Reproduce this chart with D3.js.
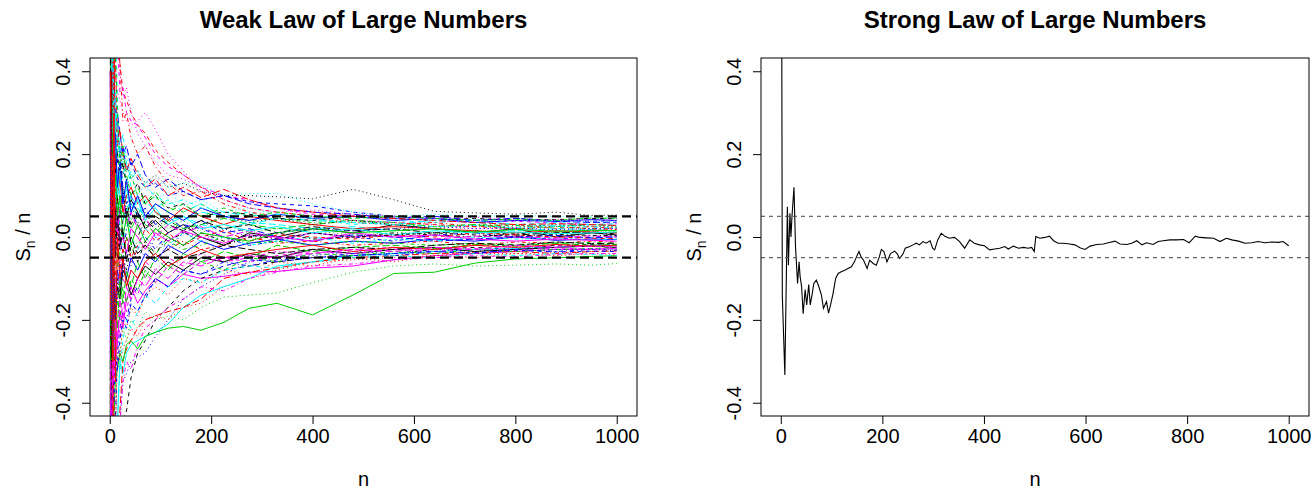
<!DOCTYPE html>
<html><head><meta charset="utf-8">
<script src="https://cdn.jsdelivr.net/npm/d3@7"></script>
<style>
body{margin:0;background:#fff}
text{font-family:"Liberation Sans",Arial,Helvetica,sans-serif;fill:#000}
</style>
</head><body>
<svg id="chart" width="1316" height="492"></svg>
<script>
// ---------- DATA ----------
const knotsN = [1,2,3,4,6,8,11,15,20,26,33,42,55,70,90,115,145,180,225,275,330,400,480,560,640,720,800,880,950,1000];

const s00 = [0.8,0.3,-0.2,0.1,0.25,0.1,0.02,0.12,0.18,0.1,0.05,0.09,0.06,0.02,0.04,0.01,0.03,0.0,-0.02,0.01,0.0,0.02,0.01,0.03,0.02,0.01,0.02,0.0,0.01,0.005];
const s01 = [1.2,0.9,0.7,0.6,0.75,0.7,0.6,0.5,0.42,0.35,0.33,0.3,0.27,0.25,0.21,0.18,0.15,0.12,0.09,0.07,0.06,0.05,0.04,0.035,0.03,0.025,0.03,0.02,0.025,0.02];
const s02 = [-0.5,-0.8,-0.6,-0.4,-0.3,-0.35,-0.25,-0.3,-0.28,-0.22,-0.25,-0.2,-0.22,-0.18,-0.2,-0.19,-0.2,-0.17,-0.145,-0.14,-0.135,-0.11,-0.085,-0.07,-0.065,-0.07,-0.068,-0.065,-0.068,-0.064];
const s03 = [-1.0,-0.4,0.1,0.3,0.1,-0.05,0.1,0.05,0.0,-0.05,0.02,0.06,0.03,0.0,-0.03,0.01,0.03,0.02,0.0,-0.02,-0.01,0.01,0.0,-0.01,0.005,0.01,0.0,-0.005,0.0,0.003];
const s04 = [1.5,0.6,0.4,0.2,-0.1,0.05,0.2,0.15,0.1,0.06,0.1,0.08,0.05,0.09,0.06,0.04,0.05,0.03,0.02,0.035,0.03,0.02,0.025,0.015,0.02,0.01,0.015,0.02,0.018,0.015];
const s05 = [-0.3,0.2,-0.4,-0.5,-0.35,-0.2,-0.3,-0.25,-0.18,-0.22,-0.15,-0.12,-0.16,-0.13,-0.1,-0.12,-0.09,-0.1,-0.095,-0.085,-0.083,-0.075,-0.07,-0.055,-0.045,-0.04,-0.035,-0.03,-0.03,-0.028];
const s06 = [-1.5,-1.2,-0.9,-0.8,-0.7,-0.6,-0.55,-0.5,-0.48,-0.44,-0.42,-0.34,-0.28,-0.25,-0.2,-0.17,-0.13,-0.1,-0.08,-0.07,-0.06,-0.05,-0.045,-0.04,-0.03,-0.025,-0.03,-0.02,-0.018,-0.02];
const s07 = [0.5,-0.2,-0.5,-0.6,-0.7,-0.6,-0.5,-0.3,-0.32,-0.27,-0.25,-0.22,-0.24,-0.2,-0.19,-0.2,-0.17,-0.16,-0.12,-0.1,-0.08,-0.06,-0.055,-0.05,-0.045,-0.04,-0.04,-0.038,-0.035,-0.032];
const s08 = [1.0,0.5,0.7,0.5,0.4,0.2,0.3,0.2,0.15,0.2,0.12,0.15,0.1,0.08,0.11,0.07,0.06,0.08,0.05,0.04,0.045,0.035,0.04,0.03,0.025,0.03,0.028,0.025,0.02,0.022];
const s09 = [-0.7,0.1,0.3,0.0,0.2,0.35,0.25,0.18,0.2,0.12,0.08,0.1,0.05,0.07,0.03,0.05,0.02,0.04,0.01,0.02,0.0,-0.01,0.005,0.0,-0.01,-0.005,0.0,0.004,-0.002,0.0];
const s10 = [-1.1,-0.6,-0.8,-0.5,-0.8,-0.7,-0.55,-0.45,-0.3,-0.33,-0.28,-0.26,-0.25,-0.24,-0.23,-0.21,-0.17,-0.14,-0.12,-0.1,-0.07,-0.06,-0.045,-0.04,-0.035,-0.03,-0.028,-0.025,-0.02,-0.02];
const s11 = [0.2,0.6,0.8,0.5,0.8,0.7,0.55,0.48,0.35,0.36,0.3,0.28,0.27,0.24,0.2,0.17,0.15,0.12,0.1,0.09,0.07,0.055,0.05,0.045,0.04,0.035,0.038,0.034,0.03,0.032];
const s12 = [0.9,1.0,0.6,0.3,0.2,0.35,0.25,0.2,0.22,0.15,0.18,0.14,0.16,0.13,0.15,0.12,0.13,0.11,0.1,0.1,0.097,0.092,0.115,0.09,0.062,0.058,0.055,0.06,0.052,0.053];
const s13 = [-0.4,0.3,0.1,-0.2,-0.5,0.45,-0.1,-0.05,0.02,-0.04,0.0,-0.06,-0.03,-0.02,-0.05,-0.03,-0.01,-0.03,-0.02,0.0,-0.015,-0.01,-0.02,-0.015,-0.01,-0.02,-0.012,-0.015,-0.01,-0.012];
const s14 = [0.6,0.0,0.3,0.45,0.2,0.1,0.0,0.05,0.1,0.06,0.04,0.02,0.05,0.03,0.01,0.04,0.02,0.03,0.045,0.03,0.02,0.03,0.04,0.035,0.025,0.03,0.02,0.025,0.03,0.027];
const s15 = [-0.2,-0.5,-0.1,0.15,-0.05,-0.2,-0.15,-0.08,-0.12,-0.06,-0.1,-0.05,-0.08,-0.04,-0.06,-0.02,-0.04,-0.01,-0.03,-0.015,-0.005,-0.02,-0.01,-0.015,-0.005,-0.01,0.0,-0.008,-0.005,-0.006];
const s16 = [1.3,0.8,0.4,0.6,0.7,0.6,0.5,0.35,0.12,0.15,0.18,0.12,0.09,0.1,0.07,0.09,0.06,0.08,0.05,0.06,0.04,0.045,0.03,0.04,0.035,0.04,0.03,0.035,0.03,0.032];
const s17 = [1.0,0.4,0.6,0.7,0.5,0.45,0.4,0.35,0.33,0.3,0.28,0.27,0.28,0.3,0.26,0.2,0.16,0.11,0.1,0.085,0.07,0.05,0.04,0.035,0.03,0.02,0.02,0.015,0.018,0.02];
const s18 = [-0.9,-0.3,0.0,0.2,0.3,0.15,0.05,-0.05,0.05,0.1,0.06,0.02,0.0,0.04,0.02,-0.01,0.01,0.0,-0.02,0.0,0.01,-0.005,0.0,0.01,0.005,0.0,0.008,0.012,0.01,0.008];
const s19 = [-0.8,-1.0,-0.7,-0.5,-0.8,-0.65,-0.55,-0.48,-0.42,-0.3,-0.27,-0.25,-0.22,-0.2,-0.19,-0.18,-0.17,-0.15,-0.1,-0.085,-0.075,-0.06,-0.05,-0.045,-0.04,-0.038,-0.035,-0.04,-0.035,-0.034];
const s20 = [-1.0,-0.6,-0.3,-0.5,-0.4,-0.45,-0.35,-0.32,-0.28,-0.3,-0.26,-0.25,-0.27,-0.24,-0.23,-0.22,-0.216,-0.225,-0.206,-0.172,-0.16,-0.188,-0.14,-0.088,-0.085,-0.063,-0.053,-0.05,-0.047,-0.045];
const s21 = [0.5,0.9,0.4,0.3,0.45,0.3,0.25,0.28,0.2,0.22,0.16,0.18,0.14,0.12,0.13,0.1,0.11,0.09,0.1,0.085,0.08,0.075,0.06,0.05,0.045,0.04,0.045,0.04,0.038,0.04];
const s22 = [0.3,0.8,0.5,0.6,0.4,0.3,0.35,0.25,0.2,0.18,0.2,0.15,0.16,0.13,0.14,0.12,0.13,0.125,0.1,0.105,0.105,0.08,0.06,0.05,0.055,0.05,0.052,0.05,0.05,0.048];
const s23 = [-0.6,-0.2,0.2,0.0,-0.15,-0.25,-0.1,-0.15,-0.05,-0.1,-0.12,-0.08,-0.1,-0.06,-0.08,-0.05,-0.07,-0.04,-0.06,-0.05,-0.035,-0.04,-0.03,-0.025,-0.03,-0.02,-0.025,-0.022,-0.02,-0.018];
const s24 = [0.4,0.1,-0.3,-0.2,0.0,0.15,0.05,0.1,-0.02,0.04,0.07,0.03,0.06,0.02,0.05,0.03,0.015,0.04,0.02,0.03,0.01,0.025,0.015,0.02,0.01,0.015,0.005,0.01,0.012,0.01];
const s25 = [1.1,0.5,0.2,0.35,0.6,0.5,0.18,0.1,0.14,0.06,0.1,0.12,0.08,0.1,0.06,0.04,0.07,0.05,0.03,0.05,0.04,0.03,0.02,0.025,0.02,0.015,0.01,0.015,0.012,0.01];
const s26 = [-0.3,-0.7,-0.5,-0.25,-0.35,-0.2,-0.25,-0.15,-0.2,-0.12,-0.16,-0.1,-0.13,-0.08,-0.11,-0.07,-0.09,-0.06,-0.08,-0.05,-0.06,-0.04,-0.045,-0.035,-0.04,-0.03,-0.035,-0.03,-0.028,-0.025];
const s27 = [-1.2,-0.9,-0.6,-0.7,-0.85,-0.75,-0.6,-0.5,-0.45,-0.35,-0.33,-0.3,-0.29,-0.28,-0.24,-0.2,-0.15,-0.12,-0.09,-0.06,-0.05,-0.045,-0.035,-0.04,-0.03,-0.035,-0.025,-0.03,-0.028,-0.03];
const s28 = [0.0,0.4,0.6,0.25,0.1,-0.1,0.0,0.08,0.03,-0.02,0.05,0.0,-0.03,0.02,0.0,-0.02,0.01,-0.01,0.0,-0.02,-0.01,0.0,-0.015,-0.005,-0.01,0.0,-0.005,-0.003,-0.008,-0.005];
const s29 = [0.7,0.2,0.0,-0.3,-0.1,0.05,0.12,0.0,0.07,0.1,0.03,0.06,0.02,0.05,0.0,0.03,0.01,0.025,0.0,0.015,-0.005,0.01,0.0,0.005,-0.005,0.002,0.0,-0.002,0.003,0.0];
const s30 = [-0.5,0.0,-0.4,-0.15,-0.3,-0.1,-0.2,-0.12,-0.15,-0.08,-0.1,-0.14,-0.1,-0.07,-0.09,-0.06,-0.08,-0.05,-0.06,-0.04,-0.05,-0.03,-0.04,-0.03,-0.025,-0.035,-0.03,-0.025,-0.022,-0.025];
const s31 = [-0.9,-0.5,-0.1,0.1,0.6,-0.5,0.3,0.0,-0.08,-0.04,0.0,-0.05,-0.02,0.02,-0.01,0.01,-0.02,0.0,0.015,-0.01,0.005,0.0,-0.005,0.005,0.0,0.01,0.005,0.0,-0.003,-0.004];
const s32 = [0.3,0.6,0.3,0.5,0.25,0.15,0.2,0.1,0.05,0.12,0.08,0.04,0.07,0.04,0.06,0.02,0.04,0.01,0.03,0.01,0.02,0.015,0.005,0.01,0.008,0.015,0.01,0.012,0.015,0.014];
const s33 = [-1.3,-0.4,-0.3,-0.55,-0.6,-0.5,-0.45,-0.28,-0.22,-0.18,-0.2,-0.15,-0.12,-0.15,-0.1,-0.12,-0.08,-0.09,-0.06,-0.07,-0.055,-0.05,-0.04,-0.045,-0.035,-0.04,-0.03,-0.035,-0.03,-0.032];
const s34 = [-0.2,0.5,0.2,0.1,0.3,0.05,0.1,0.15,0.08,0.04,0.06,0.1,0.07,0.05,0.08,0.06,0.04,0.06,0.05,0.03,0.045,0.04,0.035,0.03,0.04,0.035,0.03,0.028,0.03,0.028];
const s35 = [0.4,-0.1,-0.2,0.05,0.15,0.0,-0.05,0.05,-0.02,0.0,-0.04,0.02,0.0,-0.03,0.01,-0.01,0.015,0.0,-0.015,0.005,0.0,-0.01,0.01,0.0,0.005,-0.005,-0.01,-0.005,-0.008,-0.01];
const s36 = [1.0,0.7,0.3,0.4,0.2,0.3,0.15,0.2,0.14,0.18,0.12,0.1,0.13,0.08,0.1,0.07,0.08,0.05,0.06,0.055,0.045,0.04,0.05,0.045,0.04,0.045,0.04,0.042,0.045,0.044];
const s37 = [-0.4,-0.8,-0.3,-0.35,-0.7,-0.55,-0.5,-0.25,-0.3,-0.2,-0.22,-0.17,-0.19,-0.14,-0.12,-0.14,-0.1,-0.11,-0.08,-0.09,-0.06,-0.07,-0.05,-0.06,-0.045,-0.05,-0.04,-0.045,-0.04,-0.042];
const s38 = [0.1,-0.3,0.2,-0.1,0.05,-0.15,0.0,-0.08,-0.03,-0.06,0.0,-0.04,-0.01,-0.02,-0.04,-0.01,-0.03,-0.02,0.0,-0.015,-0.01,-0.02,-0.01,-0.015,-0.02,-0.015,-0.018,-0.015,-0.013,-0.015];
const s39 = [0.6,0.3,0.5,0.35,0.5,0.4,0.3,0.3,0.25,0.2,0.22,0.17,0.2,0.15,0.12,0.14,0.11,0.09,0.1,0.08,0.07,0.06,0.055,0.045,0.05,0.04,0.045,0.038,0.035,0.036];
const s40 = [0.9,-0.2,0.5,0.3,0.6,0.2,0.3,0.1,0.16,0.08,0.12,0.06,0.09,0.04,0.07,0.03,0.05,0.02,0.03,0.015,0.025,0.01,0.02,0.005,0.015,0.01,0.012,0.008,0.01,0.012];
const s41 = [-0.8,-0.4,-0.7,-0.3,-0.45,-0.25,-0.3,-0.2,-0.24,-0.15,-0.18,-0.12,-0.14,-0.09,-0.11,-0.07,-0.09,-0.06,-0.05,-0.06,-0.045,-0.035,-0.04,-0.03,-0.035,-0.028,-0.032,-0.026,-0.03,-0.027];
const s42 = [0.2,0.5,0.1,-0.2,0.1,0.2,0.0,0.1,0.06,0.12,0.04,0.08,0.03,0.06,0.02,0.045,0.01,0.03,0.05,0.035,0.045,0.03,0.04,0.03,0.02,0.028,0.024,0.03,0.026,0.025];
const s43 = [1.4,1.0,0.8,0.55,0.8,0.75,0.6,0.5,0.42,0.28,0.3,0.24,0.2,0.22,0.17,0.13,0.1,0.11,0.08,0.06,0.05,0.045,0.035,0.03,0.035,0.025,0.02,0.025,0.02,0.018];
const s44 = [-0.6,0.0,-0.3,-0.4,-0.2,-0.3,-0.15,-0.22,-0.1,-0.16,-0.08,-0.12,-0.06,-0.1,-0.05,-0.08,-0.04,-0.06,-0.035,-0.05,-0.02,-0.035,-0.025,-0.02,-0.028,-0.018,-0.022,-0.015,-0.02,-0.018];
const s45 = [1.2,0.7,0.4,0.25,0.35,0.15,0.25,0.12,0.18,0.08,0.14,0.06,0.1,0.05,0.08,0.06,0.04,0.07,0.05,0.04,0.055,0.045,0.05,0.04,0.045,0.035,0.04,0.038,0.042,0.04];
const s46 = [-1.0,-0.7,-0.5,-0.6,-0.7,-0.6,-0.5,-0.45,-0.32,-0.25,-0.2,-0.22,-0.18,-0.14,-0.16,-0.12,-0.1,-0.11,-0.08,-0.07,-0.075,-0.06,-0.05,-0.045,-0.05,-0.04,-0.045,-0.04,-0.042,-0.045];
const s47 = [0.5,0.8,0.9,0.6,0.9,0.75,0.6,0.5,0.4,0.34,0.36,0.3,0.25,0.22,0.18,0.15,0.14,0.12,0.09,0.07,0.06,0.065,0.055,0.05,0.045,0.048,0.04,0.042,0.038,0.04];
const s48 = [-0.3,-0.6,-0.2,-0.4,-0.15,-0.05,-0.2,-0.1,-0.14,-0.05,-0.08,-0.02,-0.06,-0.01,-0.04,0.0,-0.02,0.01,-0.01,0.005,-0.005,0.01,0.0,0.005,0.01,0.005,0.002,0.006,0.004,0.003];
const s49 = [1.0,0.4,0.6,0.3,0.7,0.55,0.45,0.22,0.26,0.2,0.16,0.19,0.15,0.12,0.14,0.1,0.12,0.095,0.115,0.09,0.07,0.06,0.05,0.045,0.04,0.035,0.03,0.032,0.03,0.028];
const s50 = [0.8,0.3,0.1,0.35,0.2,0.05,0.15,0.05,0.1,0.0,0.05,-0.02,0.03,-0.01,0.02,0.0,-0.02,0.01,0.0,-0.01,0.01,0.02,0.01,0.015,0.02,0.012,0.018,0.014,0.016,0.015];
const s51 = [-0.5,-0.9,-0.4,-0.6,-0.3,-0.4,-0.28,-0.32,-0.25,-0.2,-0.22,-0.16,-0.18,-0.14,-0.1,-0.12,-0.08,-0.09,-0.07,-0.055,-0.06,-0.05,-0.045,-0.04,-0.035,-0.038,-0.032,-0.036,-0.034,-0.035];
const s52 = [1.1,0.6,0.3,0.5,0.25,0.35,0.2,0.25,0.15,0.2,0.12,0.16,0.1,0.13,0.09,0.11,0.075,0.09,0.06,0.07,0.055,0.05,0.045,0.048,0.04,0.042,0.038,0.04,0.037,0.038];
const s53 = [-1.3,-1.0,-0.8,-0.6,-0.9,-0.8,-0.65,-0.55,-0.45,-0.35,-0.3,-0.32,-0.26,-0.22,-0.2,-0.17,-0.15,-0.12,-0.13,-0.1,-0.085,-0.07,-0.065,-0.055,-0.05,-0.045,-0.048,-0.042,-0.04,-0.04];
const s54 = [0.6,0.1,0.4,0.2,0.0,0.1,-0.05,0.05,-0.03,0.02,-0.06,0.0,-0.04,-0.02,-0.05,-0.03,-0.05,-0.04,-0.02,-0.03,-0.04,-0.03,-0.025,-0.03,-0.02,-0.015,-0.02,-0.012,-0.016,-0.015];
const s55 = [-0.2,0.4,0.0,0.2,-0.6,0.5,-0.35,0.0,-0.1,-0.05,-0.12,-0.08,-0.1,-0.06,-0.04,-0.07,-0.05,-0.03,-0.05,-0.04,-0.03,-0.02,-0.035,-0.025,-0.03,-0.02,-0.025,-0.018,-0.022,-0.02];
const s56 = [1.5,0.9,0.5,0.6,0.7,0.5,0.45,0.3,0.18,0.22,0.15,0.1,0.12,0.08,0.1,0.06,0.08,0.05,0.07,0.05,0.06,0.05,0.045,0.05,0.045,0.04,0.043,0.04,0.046,0.045];
const s57 = [-0.1,0.3,-0.2,0.0,-0.25,-0.1,-0.2,-0.12,-0.06,-0.1,-0.03,-0.07,-0.02,-0.05,0.0,-0.03,0.01,-0.01,0.02,0.0,0.01,0.02,0.015,0.02,0.025,0.02,0.022,0.018,0.02,0.021];
const s58 = [0.8,1.0,0.6,0.4,0.5,0.3,0.35,0.25,0.2,0.25,0.18,0.14,0.16,0.12,0.1,0.08,0.09,0.07,0.06,0.05,0.055,0.045,0.035,0.03,0.025,0.028,0.022,0.025,0.024,0.022];
const s59 = [-0.7,-0.3,-0.6,-0.45,-0.3,-0.35,-0.2,-0.26,-0.15,-0.2,-0.12,-0.15,-0.1,-0.12,-0.08,-0.1,-0.06,-0.07,-0.05,-0.045,-0.05,-0.04,-0.03,-0.035,-0.025,-0.03,-0.02,-0.025,-0.022,-0.024];

const weakSeries = [s00,s01,s02,s03,s04,s05,s06,s07,s08,s09,s10,s11,s12,s13,s14,s15,s16,s17,s18,s19,
                    s20,s21,s22,s23,s24,s25,s26,s27,s28,s29,s30,s31,s32,s33,s34,s35,s36,s37,s38,s39,
                    s40,s41,s42,s43,s44,s45,s46,s47,s48,s49,s50,s51,s52,s53,s54,s55,s56,s57,s58,s59];

const strongN = [1,3,8,13,15,18,20,22,26,29,33,36,38,41,44,48,51,55,58,62,65,70,75,80,84,90,94,98,103,108,113,119,126,132,139,145,149,154,158,163,170,175,182,188,194,198,203,209,216,224,229,234,241,245,254,260,267,273,280,286,294,299,303,309,316,324,332,342,352,362,372,381,391,401,411,421,431,441,448,458,468,478,487,494,499,502,510,520,529,537,546,556,569,579,589,599,609,622,635,645,658,668,681,691,701,711,720,733,743,753,766,779,793,804,816,825,838,852,865,877,888,901,914,927,940,953,966,980,989,1000];
const strongMean = [1.0,-0.14,-0.333,0.073,-0.068,0.057,0.0,0.049,0.12,-0.024,-0.112,-0.06,-0.095,-0.12,-0.185,-0.127,-0.164,-0.115,-0.164,-0.136,-0.112,-0.104,-0.12,-0.14,-0.172,-0.156,-0.184,-0.164,-0.136,-0.1,-0.088,-0.084,-0.08,-0.076,-0.072,-0.06,-0.048,-0.035,-0.048,-0.056,-0.076,-0.056,-0.064,-0.068,-0.048,-0.03,-0.035,-0.06,-0.04,-0.034,-0.04,-0.052,-0.04,-0.027,-0.023,-0.019,-0.015,-0.019,-0.011,-0.015,-0.009,-0.027,-0.031,-0.007,0.009,0.001,-0.003,-0.001,-0.011,-0.027,-0.007,-0.015,-0.019,-0.021,-0.031,-0.029,-0.027,-0.023,-0.029,-0.022,-0.027,-0.025,-0.027,-0.025,-0.035,0.001,-0.003,-0.001,0.002,-0.009,-0.015,-0.015,-0.017,-0.019,-0.026,-0.03,-0.022,-0.018,-0.017,-0.014,-0.01,-0.017,-0.018,-0.015,-0.009,-0.019,-0.014,-0.018,-0.011,-0.009,-0.007,-0.007,-0.006,-0.014,0.002,-0.001,-0.002,-0.003,-0.011,-0.003,-0.007,-0.01,-0.015,-0.014,-0.011,-0.014,-0.012,-0.013,-0.011,-0.021];

const bandLimits = [-0.05, 0.05];
const xTicks = [0,200,400,600,800,1000];
const yTicks = [-0.4,-0.2,0.0,0.2,0.4];
const lineColors = ["#000000","#FF0000","#00CD00","#0000FF","#00FFFF","#FF00FF"];
const lineDashes = [null,"4,4","1,3","1,3,4,3","7,3"];
const titles = ["Weak Law of Large Numbers","Strong Law of Large Numbers"];

// ---------- DRAW ----------
const svg = d3.select("#chart");
const plotTop = 58, plotBottom = 416;
const panels = [{left:90,right:637},{left:761,right:1309}];

function makePanel(p, idx) {
  const x = d3.scaleLinear().domain([-38.96, 1039.96]).range([p.left, p.right]);
  const y = d3.scaleLinear().domain([-0.432, 0.432]).range([plotBottom, plotTop]);
  const g = svg.append("g");
  const cid = "clip" + idx;
  svg.append("clipPath").attr("id", cid).append("rect")
    .attr("x", p.left).attr("y", plotTop).attr("width", p.right - p.left).attr("height", plotBottom - plotTop);

  g.append("text").attr("x", (p.left + p.right) / 2).attr("y", 28)
    .attr("text-anchor", "middle").attr("font-size", 24).attr("font-weight", "bold").text(titles[idx]);

  const xa = g.append("g").attr("transform", `translate(0,${plotBottom})`)
    .call(d3.axisBottom(x).tickValues(xTicks).tickSize(8).tickSizeOuter(0).tickPadding(5).tickFormat(d3.format("d")));
  xa.select(".domain").remove();
  xa.selectAll("line").attr("stroke", "#000");
  xa.selectAll("text").attr("font-size", 20).attr("fill", "#000").attr("font-family", "Liberation Sans, Arial, sans-serif");

  const ya = g.append("g").attr("transform", `translate(${p.left},0)`)
    .call(d3.axisLeft(y).tickValues(yTicks).tickSize(8).tickSizeOuter(0));
  ya.select(".domain").remove();
  ya.selectAll("line").attr("stroke", "#000");
  ya.selectAll("text").remove();
  ya.selectAll("g.tick").append("text")
    .attr("transform", "translate(-20,0) rotate(-90)")
    .attr("text-anchor", "middle").attr("font-size", 20).attr("fill", "#000")
    .attr("font-family", "Liberation Sans, Arial, sans-serif")
    .text(d => d3.format(".1f")(d).replace("\u2212", "-"));

  g.append("text").attr("x", (p.left + p.right) / 2).attr("y", 486)
    .attr("text-anchor", "middle").attr("font-size", 20).text("n");
  const yl = g.append("text").attr("transform", `translate(${p.left - 60},${(plotTop + plotBottom) / 2}) rotate(-90)`)
    .attr("text-anchor", "middle").attr("font-size", 20);
  yl.append("tspan").text("S");
  yl.append("tspan").attr("font-size", 14).attr("dy", 5).text("n");
  yl.append("tspan").attr("dy", -5).text(" / n");

  const plot = g.append("g").attr("clip-path", `url(#${cid})`);
  return {x, y, g, plot};
}

const L = makePanel(panels[0], 0);
const lineL = d3.line().x((d, i) => L.x(knotsN[i])).y(d => L.y(d));
weakSeries.forEach((s, i) => {
  L.plot.append("path").attr("d", lineL(s)).attr("fill", "none")
    .attr("stroke", lineColors[i % 6]).attr("stroke-width", 1)
    .attr("stroke-dasharray", lineDashes[i % 5]);
});
bandLimits.forEach(v => {
  L.plot.append("line").attr("x1", panels[0].left).attr("x2", panels[0].right)
    .attr("y1", L.y(v)).attr("y2", L.y(v)).attr("stroke", "#000").attr("stroke-width", 2.2)
    .attr("stroke-dasharray", "9,5");
});

const R = makePanel(panels[1], 1);
const lineR = d3.line().x((d, i) => R.x(strongN[i])).y(d => R.y(d));
R.plot.append("path").attr("d", lineR(strongMean)).attr("fill", "none")
  .attr("stroke", "#000").attr("stroke-width", 1.1);
bandLimits.forEach(v => {
  R.plot.append("line").attr("x1", panels[1].left).attr("x2", panels[1].right)
    .attr("y1", R.y(v)).attr("y2", R.y(v)).attr("stroke", "#444").attr("stroke-width", 1)
    .attr("stroke-dasharray", "4,4");
});

panels.forEach(p => {
  svg.append("rect").attr("x", p.left).attr("y", plotTop).attr("width", p.right - p.left)
    .attr("height", plotBottom - plotTop).attr("fill", "none").attr("stroke", "#000").attr("stroke-width", 1);
});
</script>
</body></html>
